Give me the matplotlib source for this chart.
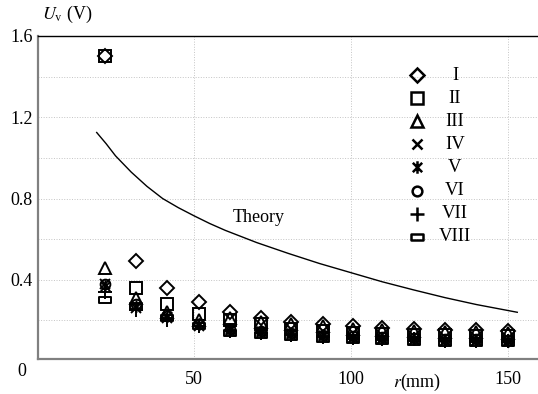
import matplotlib
matplotlib.use('Agg')
import matplotlib.pyplot as plt
from matplotlib.path import Path

plt.rcParams['font.family'] = ['Liberation Serif', 'DejaVu Serif']
plt.rcParams['mathtext.fontset'] = 'stix'

# distance r (mm) of the measuring points
r = [21.5, 31.5, 41.5, 51.5, 61.5, 71.5, 81, 91, 100.5, 110, 120, 130, 140, 150]

u_I    = [1.50, 0.49, 0.36, 0.29, 0.24, 0.21, 0.19, 0.18, 0.17, 0.165, 0.16, 0.155, 0.155, 0.15]
u_II   = [1.50, 0.36, 0.28, 0.23, 0.20, 0.18, 0.16, 0.15, 0.14, 0.135, 0.13, 0.13, 0.125, 0.125]
u_III  = [0.46, 0.31, 0.24, 0.20, 0.21, 0.19, 0.18, 0.17, 0.16, 0.155, 0.15, 0.145, 0.145, 0.14]
u_IV   = [0.38, 0.26, 0.21, 0.17, 0.15, 0.14, 0.13, 0.12, 0.115, 0.11, 0.105, 0.10, 0.10, 0.10]
u_V    = [0.37, 0.27, 0.22, 0.18, 0.16, 0.15, 0.14, 0.13, 0.12, 0.115, 0.11, 0.105, 0.105, 0.10]
u_VI   = [0.38, 0.28, 0.22, 0.18, 0.16, 0.15, 0.14, 0.13, 0.125, 0.12, 0.115, 0.11, 0.11, 0.105]
u_VII  = [0.34, 0.25, 0.20, 0.17, 0.15, 0.14, 0.13, 0.12, 0.115, 0.11, 0.11, 0.10, 0.10, 0.10]
u_VIII = [0.30, 0.27, 0.21, 0.17, 0.14, 0.13, 0.12, 0.11, 0.105, 0.10, 0.095, 0.09, 0.09, 0.09]

theory_r = [19, 22, 25, 30, 35, 40, 45, 50, 55, 60, 70, 80, 90, 100, 110, 120, 130, 140, 153]
theory_u = [1.125, 1.07, 1.01, 0.93, 0.86, 0.80, 0.755, 0.715, 0.677, 0.643, 0.583, 0.53, 0.48,
            0.435, 0.39, 0.35, 0.312, 0.278, 0.24]

names = ['I', 'II', 'III', 'IV', 'V', 'VI', 'VII', 'VIII']
series = [u_I, u_II, u_III, u_IV, u_V, u_VI, u_VII, u_VIII]

# custom markers: x with a vertical bar, and a flat rectangle
star_path = Path([(0, -1), (0, 1), (-0.75, -0.75), (0.75, 0.75), (-0.75, 0.75), (0.75, -0.75)],
                 [Path.MOVETO, Path.LINETO, Path.MOVETO, Path.LINETO, Path.MOVETO, Path.LINETO])
rect_path = Path([(-1, -0.55), (1, -0.55), (1, 0.55), (-1, 0.55), (-1, -0.55)],
                 [Path.MOVETO, Path.LINETO, Path.LINETO, Path.LINETO, Path.CLOSEPOLY])
markers = ['D', 's', '^', 'x', star_path, 'o', '+', rect_path]
sizes = [7, 8, 8, 7, 9, 7, 10, 8]

fig = plt.figure(figsize=(5.38, 3.94), dpi=100)
ax = fig.add_axes([38 / 538, 35 / 394, 500 / 538, 323 / 394])

for vals, m, s in zip(series, markers, sizes):
    ax.plot(r, vals, linestyle='none', marker=m, markersize=s, mfc='none',
            mec='black', mew=1.4)

ax.plot(theory_r, theory_u, color='black', lw=1.0)
ax.text(70.7, 0.705, 'Theory', fontsize=13, ha='center', va='center')

# hand-made legend on the right
for i, (name, m, s) in enumerate(zip(names, markers, sizes)):
    yy = (359 - 75) / 323 - i * 23.1 / 323
    ax.plot(0.758, yy, transform=ax.transAxes, linestyle='none', marker=m,
            markersize=s, mfc='none', mec='black', mew=1.8, clip_on=False)
    ax.text(0.834, yy, name, transform=ax.transAxes, fontsize=13.5,
            ha='center', va='center')

ax.set_xlim(0.3, 159.6)
ax.set_ylim(0.01, 1.575)
ax.set_xticks([50, 100, 150])
ax.set_yticks([0.4, 0.8, 1.2, 1.6])
ax.set_yticks([0.2, 0.6, 1.0, 1.4], minor=True)
ax.tick_params(which='both', length=0, labelsize=13)
ax.tick_params(axis='x', pad=9)
ax.tick_params(axis='y', pad=4)
ax.grid(True, which='both', linestyle=':', color='#c4c4c4', lw=0.7)
ax.set_axisbelow(True)

ax.spines['right'].set_visible(False)
ax.spines['left'].set_color('#808080')
ax.spines['bottom'].set_color('#808080')
ax.spines['left'].set_linewidth(1.6)
ax.spines['bottom'].set_linewidth(1.6)
ax.spines['top'].set_linewidth(1.0)

ax.text(-16 / 500, -12 / 323, '0', transform=ax.transAxes, fontsize=13,
        ha='center', va='center')
ax.text(0.008, 1.066, r'$U_{\mathrm{v}}$ (V)', transform=ax.transAxes,
        fontsize=13, ha='left', va='center')
ax.text(121, -23 / 323, r'$r$(mm)', transform=ax.get_xaxis_transform(),
        fontsize=13, ha='center', va='center')

fig.savefig('out.png', dpi=100)
